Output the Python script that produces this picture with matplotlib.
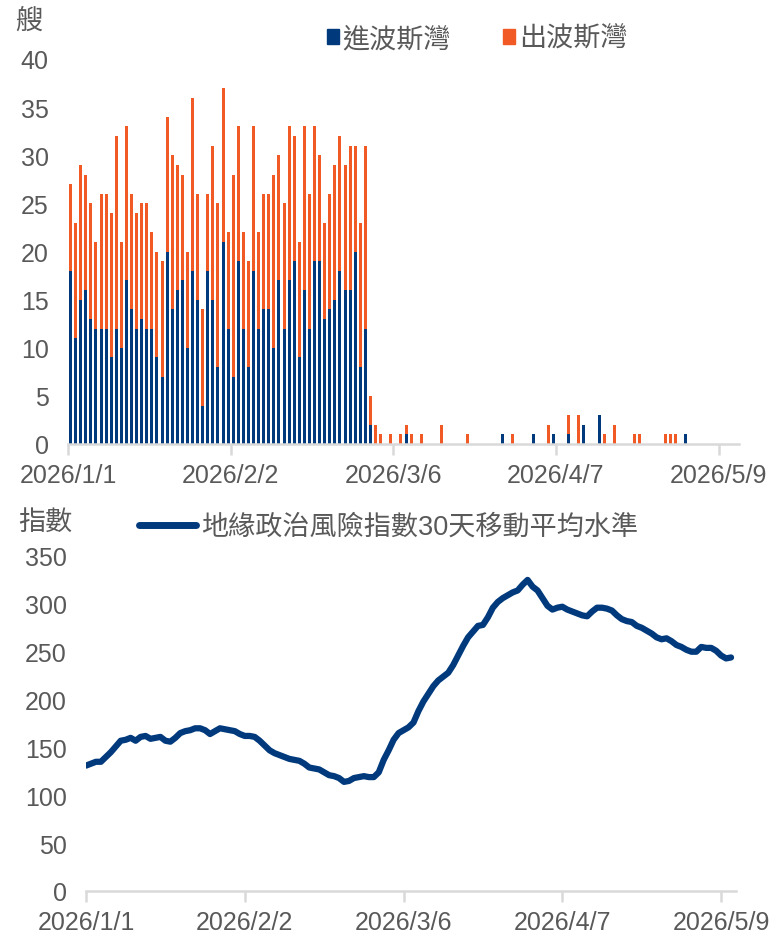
import matplotlib
matplotlib.use("Agg")
import matplotlib.pyplot as plt
from matplotlib.patches import Patch
from matplotlib.lines import Line2D
import numpy as np

# ---------------- data ----------------
tick_labels = ["2026/1/1", "2026/2/2", "2026/3/6", "2026/4/7", "2026/5/9"]
tick_days = [0, 32, 64, 96, 128]
n_days_bar = 132  # 2026/1/1 .. 2026/5/12

# total ships per day (entering + leaving), index 0 = 2026/1/1
total_ships = [27, 23, 29, 28, 25, 21, 26, 26, 24, 32, 21, 33, 26, 24, 25, 25, 22, 20, 19, 34,
               30, 29, 28, 20, 36, 26, 14, 26, 31, 25, 37, 22, 28, 33, 22, 19, 33, 22, 26, 26,
               28, 30, 25, 33, 32, 21, 33, 26, 33, 30, 23, 26, 29, 32, 29, 31, 31, 23, 31, 5,
               2, 1, 0, 1, 0, 1, 2, 1, 0, 1, 0, 0, 0, 2, 0, 0, 0, 0, 1, 0,
               0, 0, 0, 0, 0, 1, 0, 1, 0, 0, 0, 1, 0, 0, 2, 1, 0, 0, 3, 0,
               3, 2, 0, 0, 3, 1, 0, 2, 0, 0, 0, 1, 1, 0, 0, 0, 0, 1, 1, 1,
               0, 1, 0, 0, 0, 0, 0, 0, 0, 0, 0, 0]
# ships entering the Persian Gulf
enter_ships = [18, 11, 15, 16, 13, 12, 12, 12, 9, 12, 10, 17, 14, 12, 13, 12, 12, 9, 7, 20,
               14, 16, 17, 10, 18, 15, 4, 18, 15, 8, 21, 12, 7, 19, 12, 8, 18, 12, 14, 14,
               10, 17, 12, 17, 19, 9, 16, 12, 19, 19, 13, 14, 15, 18, 16, 16, 20, 8, 12, 2,
               0, 0, 0, 0, 0, 0, 1, 0, 0, 0, 0, 0, 0, 0, 0, 0, 0, 0, 0, 0,
               0, 0, 0, 0, 0, 1, 0, 0, 0, 0, 0, 1, 0, 0, 0, 1, 0, 0, 1, 0,
               0, 2, 0, 0, 3, 0, 0, 0, 0, 0, 0, 0, 0, 0, 0, 0, 0, 0, 0, 0,
               0, 1, 0, 0, 0, 0, 0, 0, 0, 0, 0, 0]
exit_ships = [t - e for t, e in zip(total_ships, enter_ships)]

# geopolitical risk index, 30-day moving average (daily, from 2026/1/1)
gpr_30d = [131, 133, 135, 135, 140, 145, 151, 157, 158, 160, 157, 161, 162, 159, 160, 161, 157, 156, 160, 165,
           167, 168, 170, 170, 168, 164, 167, 170, 169, 168, 167, 164, 162, 162, 161, 157, 152, 147, 144, 142,
           140, 138, 137, 136, 133, 129, 128, 127, 124, 121, 120, 118, 114, 115, 118, 119, 120, 119, 119, 124,
           137, 147, 158, 165, 168, 171, 176, 188, 198, 206, 214, 220, 224, 228, 236, 246, 256, 265, 271, 277,
           278, 286, 296, 302, 306, 309, 312, 314, 320, 325, 318, 314, 306, 298, 294, 296, 297, 294, 292, 290,
           288, 287, 292, 296, 296, 295, 293, 288, 284, 282, 281, 277, 275, 272, 269, 265, 263, 264, 261, 257,
           255, 252, 250, 250, 255, 254, 254, 251, 246, 243, 244]

# ---------------- style ----------------
BLUE = "#003A7D"
ORANGE = "#F15A24"
TXT = "#595959"
AX = "#D9D9D9"
FONT = ["Liberation Sans", "Noto Sans CJK TC", "DejaVu Sans"]
plt.rcParams["font.family"] = FONT
FS = 18
LFS = 19.5

fig = plt.figure(figsize=(7.74, 9.37), dpi=100)
W, H = 774, 937


def axes_px(l, r, top, bot):
    return fig.add_axes([l / W, 1 - bot / H, (r - l) / W, (bot - top) / H])


def style(ax):
    for s in ["top", "right", "left"]:
        ax.spines[s].set_visible(False)
    ax.spines["bottom"].set_color(AX)
    ax.spines["bottom"].set_linewidth(1.8)
    ax.tick_params(axis="y", length=0, labelsize=FS, labelcolor=TXT, pad=14)
    ax.tick_params(axis="x", length=8, width=1.8, color=AX, labelsize=FS, labelcolor=TXT, pad=6)


# ---------------- top chart ----------------
ax1 = axes_px(68, 739, 60, 445)
x_bar = np.arange(n_days_bar)
ax1.bar(x_bar, enter_ships, width=0.6, color=BLUE, linewidth=0)
ax1.bar(x_bar, exit_ships, bottom=enter_ships, width=0.6, color=ORANGE, linewidth=0)
ax1.set_xlim(-0.5, n_days_bar - 0.5)
ax1.set_ylim(0, 40)
ax1.set_yticks(range(0, 41, 5))
ax1.set_xticks([d - 0.5 for d in tick_days])
ax1.set_xticklabels(tick_labels)
style(ax1)

fig.text(29 / W, 1 - 22 / H, "艘", fontsize=LFS, color=TXT, ha="center", va="center")
leg1 = fig.legend(handles=[Patch(color=BLUE, label="進波斯灣"), Patch(color=ORANGE, label="出波斯灣")],
                  loc="center", bbox_to_anchor=(477 / W, 1 - 40 / H), ncol=2, frameon=False,
                  fontsize=LFS, handlelength=0.45, handleheight=0.45, handletextpad=0.15,
                  columnspacing=1.9, labelcolor=TXT)

# ---------------- bottom chart ----------------
ax2 = axes_px(86, 736, 557, 892)
x_line = np.arange(len(gpr_30d))
ax2.plot(x_line, gpr_30d, color=BLUE, lw=4.5, solid_capstyle="round", solid_joinstyle="round")
ax2.set_xlim(0, 131)
ax2.set_ylim(0, 350)
ax2.set_yticks(range(0, 351, 50))
ax2.set_xticks(tick_days)
ax2.set_xticklabels(tick_labels)
style(ax2)

fig.text(45 / W, 1 - 523 / H, "指數", fontsize=LFS, color=TXT, ha="center", va="center")
leg2 = fig.legend(handles=[Line2D([0], [0], color=BLUE, lw=5, solid_capstyle="round",
                                  label="地緣政治風險指數30天移動平均水準")],
                  loc="center", bbox_to_anchor=(389 / W, 1 - 528 / H), frameon=False,
                  fontsize=LFS, handlelength=2.1, handletextpad=0.2, labelcolor=TXT)

fig.savefig("out.png", dpi=100)
